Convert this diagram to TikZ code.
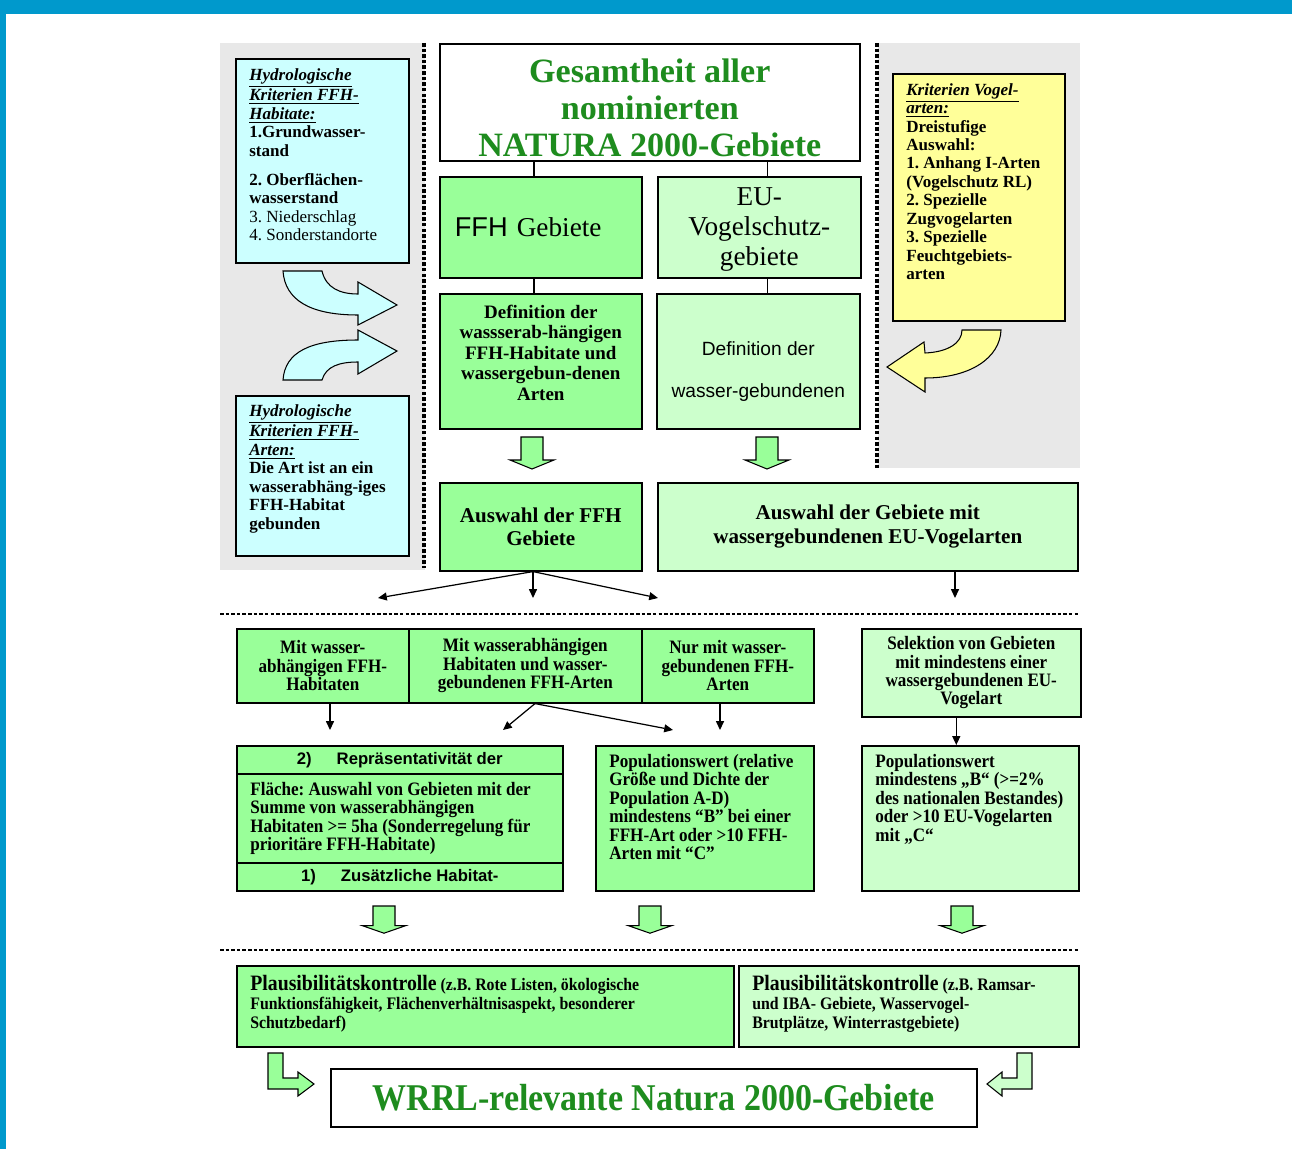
\documentclass[tikz,border=0pt]{standalone}
\usepackage{fontspec}
\setmainfont{Liberation Serif}
\setsansfont{Liberation Sans}
\newfontfamily\narrowfont[FakeStretch=0.9]{Liberation Serif}
\usetikzlibrary{positioning, arrows.meta}

\definecolor{ffhgreen}{HTML}{99FF99}
\definecolor{birdgreen}{HTML}{CCFFCC}
\definecolor{hydrocyan}{HTML}{CCFFFF}
\definecolor{birdyellow}{HTML}{FFFF99}
\definecolor{panelgray}{HTML}{E8E8E8}
\definecolor{frameblue}{HTML}{0099CC}
\definecolor{titlegreen}{HTML}{1E8C1E}

\newcommand\critline[1]{\underline{\textbf{\textit{#1}}}}

\begin{document}
\frenchspacing
\begin{tikzpicture}[
    x=0.02cm, y=-0.02cm,
    >={Triangle[length=5pt, width=4.5pt]},
    boxsize/.style 2 args={minimum width=#1*0.02cm, minimum height=#2*0.02cm},
    box/.style={draw=black, line width=0.9pt, inner sep=0pt, anchor=north west},
    txt/.style={inner sep=0pt, anchor=north west, align=left, font=\fontsize{9.7}{10.5}\selectfont\bfseries},
    narrow/.style={font=\narrowfont\bfseries\fontsize{10.8}{10.5}\selectfont},
    link/.style={draw=black, line width=0.8pt},
    arr/.style={->, draw=black, line width=0.7pt},
    dotsep/.style={line width=#1, dash pattern=on 2pt off 1.2pt},
    bent/.style={draw=black, line width=0.6pt},
    blockdown/.pic={\draw[bent, fill=ffhgreen] (-11,0) -- (11,0) -- (11,23) -- (22,23) -- (0,32) -- (-22,23) -- (-11,23) -- cycle;}
]
\useasboundingbox (0,0) rectangle (1292,1149);

% Frame and background panels
\fill[frameblue] (0,0) rectangle (1292,14);
\fill[frameblue] (0,0) rectangle (6,1149);
\fill[panelgray] (220,43) rectangle (425,570);
\fill[panelgray] (878,43) rectangle (1080,468);
\draw[dotsep=2pt] (424,43) -- (424,568);
\draw[dotsep=2pt] (877,43) -- (877,468);
\draw[dotsep=1.6pt] (220,614) -- (1080,614);
\draw[dotsep=1.6pt] (220,950) -- (1080,950);

% Criteria boxes at the sides
\node[box, fill=hydrocyan, boxsize={173}{204}] (hydrohab) at (235,58) {};
\node[txt] at ([shift={(14,10)}]hydrohab.north west) {\critline{Hydrologische}\\
    \critline{Kriterien FFH-}\\ \critline{Habitate:}\\ 1.Grundwasser-\\ stand\\[6pt]
    2. Oberflächen-\\ wasserstand\\ \textmd{3. Niederschlag}\\ \textmd{4. Sonderstandorte}};
\node[box, fill=hydrocyan, boxsize={173}{160}] (hydroart) at (235,395) {};
\node[txt] at ([shift={(14,9)}]hydroart.north west) {\critline{Hydrologische}\\
    \critline{Kriterien FFH-}\\ \critline{Arten:}\\ Die Art ist an ein\\
    wasserabhäng-iges\\ FFH-Habitat\\ gebunden};
\node[box, fill=birdyellow, boxsize={172}{247}] (birdcrit) at (892,73) {};
\node[txt] at ([shift={(14,10)}]birdcrit.north west) {\critline{Kriterien Vogel-}\\
    \critline{arten:}\\ Dreistufige\\ Auswahl:\\ 1. Anhang I-Arten\\ (Vogelschutz RL)\\
    2. Spezielle\\ Zugvogelarten\\ 3. Spezielle\\ Feuchtgebiets-\\ arten};

% Curved block arrows
\draw[bent, fill=hydrocyan] (283,271) -- (322,271) .. controls (326,288) and (340,294) .. (358,294)
    -- (358,282) -- (397,305) -- (358,325) -- (358,315) .. controls (310,315) and (285,300) .. (283,271) -- cycle;
\draw[bent, fill=hydrocyan] (283,380) -- (322,380) .. controls (326,366) and (340,362) .. (358,362)
    -- (358,374) -- (397,351) -- (358,330) -- (358,340) .. controls (310,340) and (285,352) .. (283,380) -- cycle;
\draw[bent, fill=birdyellow] (962,330) -- (1001,330) .. controls (1000,358) and (970,378) .. (925,378)
    -- (925,392) -- (887,367) -- (924,342) -- (925,353) .. controls (948,352) and (962,343) .. (962,330) -- cycle;

% Main column
\node[box, fill=white, boxsize={420}{117}, align=center, text=titlegreen,
    font=\fontsize{19.4}{21}\selectfont\bfseries] (title) at (439,43)
    {\rule{0pt}{19.4pt}Gesamtheit aller\\ nominierten\\ NATURA 2000-Gebiete};
\node[box, fill=ffhgreen, boxsize={202}{101}, text width=3.44cm, align=left,
    font=\fontsize{15.5}{18}\selectfont] (ffh) at (439,176) {\sffamily FFH \rmfamily Gebiete};
\node[box, fill=birdgreen, boxsize={203}{101}, align=center,
    font=\fontsize{15.5}{17.2}\selectfont] (eu) at (657,176) {\rule{0pt}{13pt}EU-\\ Vogelschutz-\\ gebiete};
\node[box, fill=ffhgreen, boxsize={202}{135}, align=center,
    font=\fontsize{10.8}{11.7}\selectfont\bfseries] (defffh) at (439,293)
    {Definition der\\ wassserab-hängigen\\ FFH-Habitate und\\ wassergebun-denen\\ Arten\rule[-10pt]{0pt}{10pt}};
\node[box, fill=birdgreen, boxsize={203}{135}, align=center,
    font=\sffamily\fontsize{10.9}{24}\selectfont] (defbird) at (656,293)
    {\rule{0pt}{20pt}Definition der\\ wasser-gebundenen};
\node[box, fill=ffhgreen, boxsize={202}{88}, align=center,
    font=\fontsize{12}{13.6}\selectfont\bfseries] (auswffh) at (439,482) {Auswahl der FFH\\ Gebiete};
\node[box, fill=birdgreen, boxsize={420}{88}, align=center,
    font=\fontsize{12}{13.6}\selectfont\bfseries] (auswbird) at (657,482)
    {Auswahl der Gebiete mit\\ wassergebundenen EU-Vogelarten};

\draw[link] ([xshift=-0.14cm]ffh.north) -- ([xshift=-0.14cm]ffh.north |- title.south);
\draw[link] ([xshift=0.16cm]eu.north) -- ([xshift=0.16cm]eu.north |- title.south);
\draw[link] ([xshift=-0.14cm]ffh.south) -- ([xshift=-0.14cm]defffh.north);
\draw[link] ([xshift=0.16cm]eu.south) -- ([xshift=0.16cm]eu.south |- defbird.north);
\pic at (532,437) {blockdown};
\pic at (767,437) {blockdown};

% Split into groups
\node[box, fill=ffhgreen, boxsize={172}{74}, align=center, narrow] (row1) at (236,628)
    {Mit wasser-\\ abhängigen FFH-\\ Habitaten};
\node[box, fill=ffhgreen, boxsize={233}{74}, align=center, narrow] (row2) at (408,628)
    {Mit wasserabhängigen\\ Habitaten und wasser-\\ gebundenen FFH-Arten};
\node[box, fill=ffhgreen, boxsize={172}{74}, align=center, narrow] (row3) at (641,628)
    {Nur mit wasser-\\ gebundenen FFH-\\ Arten};
\node[box, fill=birdgreen, boxsize={219}{88}, align=center, narrow] (sel) at (861,628)
    {Selektion von Gebieten\\ mit mindestens einer\\ wassergebundenen EU-\\ Vogelart};

\coordinate (fl) at (378,598);
\coordinate (fm) at (533,598);
\coordinate (fr) at (658,598);
\coordinate (abend) at (955,598);
\draw[arr] (auswffh.south -| fm) -- (fl);
\draw[arr] (auswffh.south -| fm) -- (fm);
\draw[arr] (auswffh.south -| fm) -- (fr);
\draw[arr] (auswbird.south -| abend) -- (abend);

% Values
\node[box, fill=ffhgreen, boxsize={326}{28}, font=\sffamily\bfseries\fontsize{9.5}{11}\selectfont]
    (reprtop) at (236,745) {2)\hspace{1.5em}Repräsentativität der};
\node[box, fill=ffhgreen, boxsize={326}{89}] (reprmid) at (236,773) {};
\node[txt, narrow] at ([shift={(14,9)}]reprmid.north west) {Fläche: Auswahl von Gebieten mit der\\
    Summe von wasserabhängigen\\ Habitaten >= 5ha (Sonderregelung für\\ prioritäre FFH-Habitate)};
\node[box, fill=ffhgreen, boxsize={326}{28}, font=\sffamily\bfseries\fontsize{9.5}{11}\selectfont]
    (reprbot) at (236,862) {1)\hspace{1.5em}Zusätzliche Habitat-};
\node[box, fill=ffhgreen, boxsize={218}{145}] (pop) at (595,745) {};
\node[txt, narrow] at ([shift={(14,9)}]pop.north west) {Populationswert (relative\\
    Größe und Dichte der\\ Population A-D)\\ mindestens “B” bei einer\\ FFH-Art oder >10 FFH-\\ Arten mit “C”};
\node[box, fill=birdgreen, boxsize={217}{145}] (popv) at (861,745) {};
\node[txt, narrow] at ([shift={(14,9)}]popv.north west) {Populationswert\\
    mindestens „B“ (>=2\%\\ des nationalen Bestandes)\\ oder >10 EU-Vogelarten\\ mit „C“};

\coordinate (r1end) at (330,730);
\coordinate (r2left) at (503,730);
\coordinate (r2right) at (673,730);
\coordinate (r3end) at (720,730);
\coordinate (r2start) at (535,702);
\draw[arr] (row1.south -| r1end) -- (r1end);
\draw[arr] (row2.south -| r2start) -- (r2left);
\draw[arr] (row2.south -| r2start) -- (r2right);
\draw[arr] (row3.south -| r3end) -- (r3end);
\draw[arr] ([xshift=-0.3cm]sel.south) -- ([xshift=-0.3cm]sel.south |- popv.north);

\pic[yscale=0.85] at (384,906) {blockdown};
\pic[yscale=0.85] at (650,906) {blockdown};
\pic[yscale=0.85] at (962,906) {blockdown};

% Plausibility and result
\node[box, fill=ffhgreen, boxsize={497}{81}] (plausffh) at (236,965) {};
\node[txt, font=\narrowfont\bfseries\fontsize{10}{10.8}\selectfont] at ([shift={(14,10)}]plausffh.north west)
    {{\fontsize{12.5}{13}\selectfont Plausibilitätskontrolle} (z.B. Rote Listen, ökologische\\
    Funktionsfähigkeit, Flächenverhältnisaspekt, besonderer\\ Schutzbedarf)};
\node[box, fill=birdgreen, boxsize={340}{81}] (plausbird) at (738,965) {};
\node[txt, font=\narrowfont\bfseries\fontsize{10}{10.8}\selectfont] at ([shift={(14,10)}]plausbird.north west)
    {{\fontsize{12.5}{13}\selectfont Plausibilitätskontrolle} (z.B. Ramsar-\\
    und IBA- Gebiete, Wasservogel-\\ Brutplätze, Winterrastgebiete)};
\node[box, fill=white, boxsize={646}{58}, text=titlegreen,
    font=\narrowfont\bfseries\fontsize{21.5}{24}\selectfont] (result) at (330,1068)
    {WRRL-relevante Natura 2000-Gebiete};

\draw[bent, fill=ffhgreen] (268,1053) -- (283,1053) -- (283,1078) -- (298,1078) -- (298,1072)
    -- (314,1084) -- (298,1096) -- (298,1089) -- (268,1089) -- cycle;
\draw[bent, fill=birdgreen] (1017,1078) -- (1017,1053) -- (1032,1053) -- (1032,1089) -- (1002,1089)
    -- (1002,1096) -- (987,1084) -- (1002,1072) -- (1002,1078) -- cycle;

\end{tikzpicture}
\end{document}
